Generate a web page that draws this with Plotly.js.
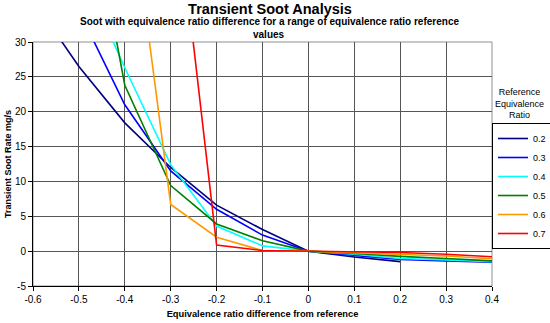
<!DOCTYPE html>
<html>
<head>
<meta charset="utf-8">
<script src="https://cdn.plot.ly/plotly-3.0.1.min.js"></script>
<style>html,body{margin:0;padding:0;background:#fff;}#chart{width:550px;height:323px;}</style>
</head>
<body>
<div id="chart"></div>
<script>
// Equivalence ratio difference from reference
const ratioDiff = [-0.6, -0.5, -0.4, -0.3, -0.2, -0.1, 0, 0.1, 0.2, 0.3, 0.4];
// Transient soot rate (mg/s) per reference equivalence ratio
const phi02 = [36, 26.5, 18.4, 12.0, 6.6, 3.1, 0, -0.85, -1.5, null, null];
const phi03 = [null, 34.5, 21.0, 11.5, 6.0, 2.3, 0, -0.6, -1.2, -1.4, -1.6];
const phi04 = [null, 41, 26.3, 12.4, 3.6, 0.75, 0, -0.45, -1.05, -1.25, -1.5];
const phi05 = [null, 59, 23.8, 9.4, 3.9, 1.5, 0, -0.33, -0.75, -1.05, -1.4];
const phi06 = [null, null, 57, 6.7, 2.0, 0.1, 0, -0.2, -0.42, -0.7, -1.1];
const phi07 = [null, null, null, 58, 0.86, 0.1, 0, -0.1, -0.2, -0.45, -0.8];
const seriesNames = ['0.2', '0.3', '0.4', '0.5', '0.6', '0.7'];
const seriesColors = ['#000080', '#0000FF', '#00FFFF', '#008000', '#FF9900', '#FF0000'];
const xTickVals = [-0.6, -0.5, -0.4, -0.3, -0.2, -0.1, 0, 0.1, 0.2, 0.3, 0.4];
const xTickText = ['-0.6', '-0.5', '-0.4', '-0.3', '-0.2', '-0.1', '0', '0.1', '0.2', '0.3', '0.4'];
const yTickVals = [-5, 0, 5, 10, 15, 20, 25, 30];
const yTickText = ['-5', '0', '5', '10', '15', '20', '25', '30'];

const allSeries = [phi02, phi03, phi04, phi05, phi06, phi07];
const traces = allSeries.map((ys, i) => ({
  type: 'scatter',
  mode: 'lines',
  x: ratioDiff,
  y: ys,
  name: seriesNames[i],
  line: {color: seriesColors[i], width: 1.6},
  connectgaps: false,
  cliponaxis: true
}));

const FONT = 'Liberation Sans, Arial, sans-serif';
const layout = {
  width: 550,
  height: 323,
  margin: {l: 33, r: 57, t: 42, b: 37},
  paper_bgcolor: '#ffffff',
  plot_bgcolor: '#ffffff',
  font: {family: FONT, size: 10, color: '#000'},
  title: {
    text: '<b>Transient Soot Analysis</b>',
    font: {family: FONT, size: 14.5, color: '#000'},
    xref: 'container', x: 270 / 550, xanchor: 'center',
    yref: 'container', y: 1 - 8.5 / 323, yanchor: 'middle'
  },
  xaxis: {
    range: [-0.6, 0.4],
    tickmode: 'array', tickvals: xTickVals, ticktext: xTickText,
    showgrid: true, gridcolor: '#555555', gridwidth: 1,
    zeroline: false,
    showline: true, linecolor: '#000', linewidth: 1,
    ticks: 'outside', ticklen: 4, tickcolor: '#000',
    tickfont: {family: FONT, size: 10, color: '#000'},
    title: {text: '<b>Equivalence ratio difference from reference</b>', font: {family: FONT, size: 9.3, color: '#000'}, standoff: 6},
    automargin: false, fixedrange: true
  },
  yaxis: {
    range: [-5, 30],
    tickmode: 'array', tickvals: yTickVals, ticktext: yTickText,
    showgrid: true, gridcolor: '#555555', gridwidth: 1,
    zeroline: false,
    showline: true, linecolor: '#000', linewidth: 1,
    ticks: 'outside', ticklen: 4, tickcolor: '#000',
    tickfont: {family: FONT, size: 10, color: '#000'},
    title: {text: '<b>Transient Soot Rate mg/s</b>', font: {family: FONT, size: 9, color: '#000'}, standoff: 1},
    automargin: false, fixedrange: true
  },
  showlegend: true,
  legend: {
    xref: 'container', yref: 'container',
    x: 492 / 550, xanchor: 'left',
    y: 1 - 123 / 323, yanchor: 'top',
    bgcolor: 'rgba(255,255,255,0)',
    bordercolor: '#000', borderwidth: 1,
    font: {family: FONT, size: 9, color: '#000'},
    itemwidth: 30,
    tracegroupgap: 0
  },
  shapes: [{
    type: 'rect', xref: 'paper', yref: 'paper', x0: 0, x1: 1, y0: 0, y1: 1,
    line: {color: '#909090', width: 1}, fillcolor: 'rgba(0,0,0,0)', layer: 'below'
  }],
  annotations: [
    {
      text: '<b>Soot with equivalence ratio difference for a range of equivalence ratio reference</b>',
      xref: 'paper', yref: 'paper', x: (270 - 33) / 460, y: 1 + (42 - 22) / 244,
      xanchor: 'center', yanchor: 'middle', showarrow: false,
      font: {family: FONT, size: 10, color: '#000'}
    },
    {
      text: '<b>values</b>',
      xref: 'paper', yref: 'paper', x: (270 - 33) / 460, y: 1 + (42 - 34.5) / 244,
      xanchor: 'center', yanchor: 'middle', showarrow: false,
      font: {family: FONT, size: 10, color: '#000'}
    },
    {
      text: 'Reference<br>Equivalence<br>Ratio',
      xref: 'paper', yref: 'paper', x: (521 - 33) / 460, y: (286 - 104) / 244,
      xanchor: 'center', yanchor: 'middle', showarrow: false,
      font: {family: FONT, size: 9, color: '#000'}
    }
  ]
};

Plotly.newPlot('chart', traces, layout, {staticPlot: true, displayModeBar: false});
</script>
</body>
</html>
